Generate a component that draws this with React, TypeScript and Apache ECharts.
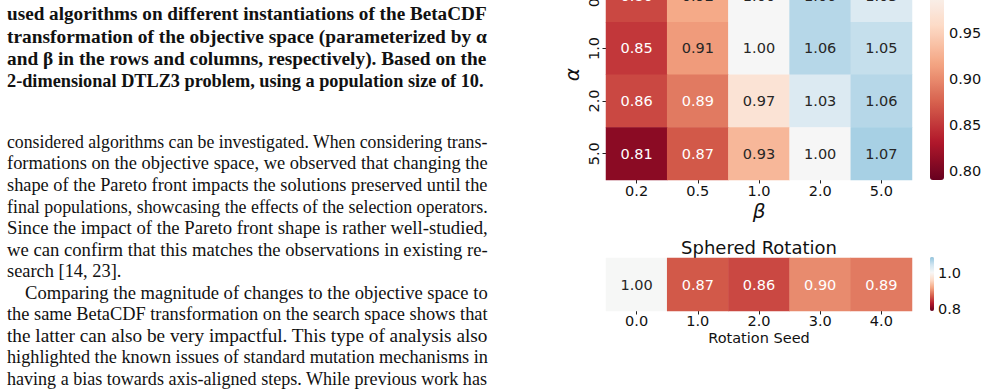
import React, { useEffect, useRef } from 'react';
import * as echarts from 'echarts';

// ---------- data ----------
const BETA_LABELS = ['0.2', '0.5', '1.0', '2.0', '5.0'];
const ALPHA_LABELS = ['0.5', '1.0', '2.0', '5.0'];
const ROW_A05 = [0.86, 0.92, 1.0, 1.06, 1.03];
const ROW_A10 = [0.85, 0.91, 1.0, 1.06, 1.05];
const ROW_A20 = [0.86, 0.89, 0.97, 1.03, 1.06];
const ROW_A50 = [0.81, 0.87, 0.93, 1.0, 1.07];
const SEED_LABELS = ['0.0', '1.0', '2.0', '3.0', '4.0'];
const SPHERED = [1.0, 0.87, 0.86, 0.9, 0.89];
const CB1_TICKS = [0.8, 0.85, 0.9, 0.95];
const CB2_TICKS = [0.8, 1.0];
const CB1_RANGE = [0.79, 1.076];
const CB2_RANGE = [0.79, 1.085];
const CENTER = 1.0;

const CAPTION_LINES = [
  'used algorithms on different instantiations of the BetaCDF',
  'transformation of the objective space (parameterized by α',
  'and β in the rows and columns, respectively). Based on the',
  '2-dimensional DTLZ3 problem, using a population size of 10.',
];
const BODY_LINES = [
  'considered algorithms can be investigated. When considering trans-',
  'formations on the objective space, we observed that changing the',
  'shape of the Pareto front impacts the solutions preserved until the',
  'final populations, showcasing the effects of the selection operators.',
  'Since the impact of the Pareto front shape is rather well-studied,',
  'we can confirm that this matches the observations in existing re-',
  'search [14, 23].',
  'Comparing the magnitude of changes to the objective space to',
  'the same BetaCDF transformation on the search space shows that',
  'the latter can also be very impactful. This type of analysis also',
  'highlighted the known issues of standard mutation mechanisms in',
  'having a bias towards axis-aligned steps. While previous work has',
];

// ---------- colour map (matplotlib RdBu, seaborn-centred) ----------
const RDBU = ['#67001f', '#b2182b', '#d6604d', '#f4a582', '#fddbc7', '#f7f7f7', '#d1e5f0', '#92c5de', '#4393c3', '#2166ac', '#053061'];
function hexToRgb(h: string) {
  return [parseInt(h.slice(1, 3), 16), parseInt(h.slice(3, 5), 16), parseInt(h.slice(5, 7), 16)];
}
function rdbu(t: number) {
  t = Math.max(0, Math.min(1, t));
  const p = t * 10;
  const i = Math.min(9, Math.floor(p));
  const f = p - i;
  const a = hexToRgb(RDBU[i]);
  const b = hexToRgb(RDBU[i + 1]);
  return [0, 1, 2].map((k) => a[k] + (b[k] - a[k]) * f);
}
const VRANGE = Math.max(CENTER - CB1_RANGE[0], CB1_RANGE[1] - CENTER);
function colorOf(v: number) {
  return rdbu((v - (CENTER - VRANGE)) / (2 * VRANGE));
}
function toHex(c: number[]) {
  return '#' + c.map((x) => Math.round(x).toString(16).padStart(2, '0')).join('');
}
function lum(c: number[]) {
  const l = c.map((x) => {
    const s = x / 255;
    return s <= 0.03928 ? s / 12.92 : Math.pow((s + 0.055) / 1.055, 2.4);
  });
  return 0.2126 * l[0] + 0.7152 * l[1] + 0.0722 * l[2];
}
function textColor(v: number) {
  return lum(colorOf(v)) > 0.408 ? '#262626' : '#ffffff';
}
function samples(lo: number, hi: number, n: number) {
  const out: string[] = [];
  for (let i = 0; i < n; i++) out.push(toHex(colorOf(lo + ((hi - lo) * i) / (n - 1))));
  return out;
}

const FONT = '"DejaVu Sans", sans-serif';
const SERIF = '"Liberation Serif", "Times New Roman", serif';
const OFF = 83; // chart canvas starts 83px above the page top

export default function App() {
  const ref = useRef<HTMLDivElement>(null);
  useEffect(() => {
    if (!ref.current) return;
    const chart = echarts.init(ref.current, null, { renderer: 'svg' });

    const rows = [ROW_A05, ROW_A10, ROW_A20, ROW_A50];
    const topData: any[] = [];
    rows.forEach((row, r) =>
      row.forEach((v, c) => topData.push({ value: [c, r, v], label: { color: textColor(v) } }))
    );
    const botData = SPHERED.map((v, c) => ({ value: [c, 0, v], label: { color: textColor(v) } }));

    // text block
    const ctx = document.createElement('canvas').getContext('2d')!;
    const measure = (t: string, f: string) => {
      ctx.font = f;
      return ctx.measureText(t).width;
    };
    const elements: any[] = [];
    const capFont = 'bold 18px ' + SERIF;
    const bodyFont = '18px ' + SERIF;
    const capRight = [487, 487, 487, 484];
    CAPTION_LINES.forEach((t, i) => {
      const x0 = 7;
      const w = measure(t, capFont);
      const base = 20 + 22.4 * i;
      elements.push({
        type: 'text', x: x0, y: OFF + base - 6, scaleX: (capRight[i] - x0) / w,
        style: { text: t, font: capFont, fill: '#111', textAlign: 'left', verticalAlign: 'middle', textVerticalAlign: 'middle' },
      });
    });
    const scales: number[] = [];
    BODY_LINES.forEach((t, i) => {
      if (i === 6) return;
      const x0 = i === 7 ? 25 : 7;
      scales.push((488 - x0) / measure(t, bodyFont));
    });
    const avgScale = scales.reduce((a, b) => a + b, 0) / scales.length;
    BODY_LINES.forEach((t, i) => {
      const x0 = i === 7 ? 25 : 7;
      const w = measure(t, bodyFont);
      const sx = i === 6 ? avgScale : (488 - x0) / w;
      const base = 148 + 21.55 * i;
      elements.push({
        type: 'text', x: x0, y: OFF + base - 6, scaleX: sx,
        style: { text: t, font: bodyFont, fill: '#111', textAlign: 'left', verticalAlign: 'middle', textVerticalAlign: 'middle' },
      });
    });
    elements.push({
      type: 'text', x: 759, y: OFF + 247,
      style: { text: 'Sphered Rotation', font: '18px ' + FONT, fill: '#111', textAlign: 'center', verticalAlign: 'middle', textVerticalAlign: 'middle' },
    });

    const tickLabel = { fontFamily: FONT, fontSize: 14.5, color: '#111' };
    const cellLabel = {
      show: true, fontFamily: FONT, fontSize: 14.5,
      formatter: (p: any) => p.value[2].toFixed(2),
    };

    chart.setOption({
      animation: false,
      graphic: { elements },
      grid: [
        { left: 606, top: OFF - 30.5, width: 306, height: 210.5 },
        { left: 606, top: OFF + 258, width: 306, height: 53 },
        { left: 930, top: 0, width: 14, height: 263 },
        { left: 930, top: OFF + 257, width: 4, height: 54 },
      ],
      xAxis: [
        {
          type: 'category', gridIndex: 0, data: BETA_LABELS,
          axisLine: { show: false },
          axisTick: { show: true, alignWithLabel: true, length: 3.5, lineStyle: { color: '#222' } },
          axisLabel: { ...tickLabel, margin: 3 },
          name: 'β', nameLocation: 'middle', nameGap: 21,
          nameTextStyle: { fontFamily: FONT, fontStyle: 'italic', fontSize: 20, color: '#111' },
        },
        {
          type: 'category', gridIndex: 1, data: SEED_LABELS,
          axisLine: { show: false },
          axisTick: { show: true, alignWithLabel: true, length: 3.5, lineStyle: { color: '#222' } },
          axisLabel: { ...tickLabel, margin: 2 },
          name: 'Rotation Seed', nameLocation: 'middle', nameGap: 19,
          nameTextStyle: { fontFamily: FONT, fontSize: 14.5, color: '#111' },
        },
        { type: 'value', gridIndex: 2, show: false },
        { type: 'value', gridIndex: 3, show: false },
      ],
      yAxis: [
        {
          type: 'category', gridIndex: 0, data: ALPHA_LABELS, inverse: true,
          axisLine: { show: false },
          axisTick: { show: true, alignWithLabel: true, length: 3.5, lineStyle: { color: '#222' } },
          axisLabel: { ...tickLabel, rotate: 90, margin: 5 },
          name: 'α', nameLocation: 'middle', nameGap: 24, nameRotate: 90,
          nameTextStyle: { fontFamily: FONT, fontStyle: 'italic', fontSize: 20, color: '#111' },
        },
        {
          type: 'category', gridIndex: 1, data: [''],
          axisLine: { show: false }, axisTick: { show: false }, axisLabel: { show: false },
        },
        {
          type: 'value', gridIndex: 2, position: 'right', min: CB1_RANGE[0], max: CB1_RANGE[1],
          axisLine: { show: false }, splitLine: { show: false },
          axisTick: { show: true, length: 3.5, customValues: CB1_TICKS, lineStyle: { color: '#222' } },
          axisLabel: { ...tickLabel, margin: 5, customValues: CB1_TICKS, formatter: (v: number) => v.toFixed(2) },
        },
        {
          type: 'value', gridIndex: 3, position: 'right', min: CB2_RANGE[0], max: CB2_RANGE[1],
          axisLine: { show: false }, splitLine: { show: false },
          axisTick: { show: true, length: 3, customValues: CB2_TICKS, lineStyle: { color: '#222' } },
          axisLabel: { ...tickLabel, margin: 4, customValues: CB2_TICKS, formatter: (v: number) => v.toFixed(1) },
        },
      ],
      visualMap: [
        {
          type: 'continuous', seriesIndex: 0, dimension: 2, min: CB1_RANGE[0], max: CB1_RANGE[1],
          inRange: { color: samples(CB1_RANGE[0], CB1_RANGE[1], 64) },
          calculable: false, orient: 'vertical', left: 930, top: 0, itemWidth: 14, itemHeight: 263,
          padding: 0, text: null, showLabel: false, hoverLink: false,
        },
        {
          type: 'continuous', seriesIndex: 1, dimension: 2, min: CB2_RANGE[0], max: CB2_RANGE[1],
          inRange: { color: samples(CB2_RANGE[0], CB2_RANGE[1], 64) },
          calculable: false, orient: 'vertical', left: 930, top: OFF + 257, itemWidth: 4, itemHeight: 54,
          padding: 0, text: null, showLabel: false, hoverLink: false,
        },
      ],
      series: [
        {
          type: 'heatmap', xAxisIndex: 0, yAxisIndex: 0, data: topData,
          label: cellLabel, emphasis: { disabled: true }, itemStyle: { borderWidth: 0 },
        },
        {
          type: 'heatmap', xAxisIndex: 1, yAxisIndex: 1, data: botData,
          label: cellLabel, emphasis: { disabled: true }, itemStyle: { borderWidth: 0 },
        },
      ],
    });
    return () => chart.dispose();
  }, []);
  return (
    <div style={{ position: 'absolute', left: 0, top: 0, width: 988, height: 390, overflow: 'hidden', background: '#fff' }}>
      <div
        ref={ref}
        style={{ position: 'absolute', left: 0, top: -OFF, width: 988, height: 390 + OFF }}
      />
    </div>
  );
}
